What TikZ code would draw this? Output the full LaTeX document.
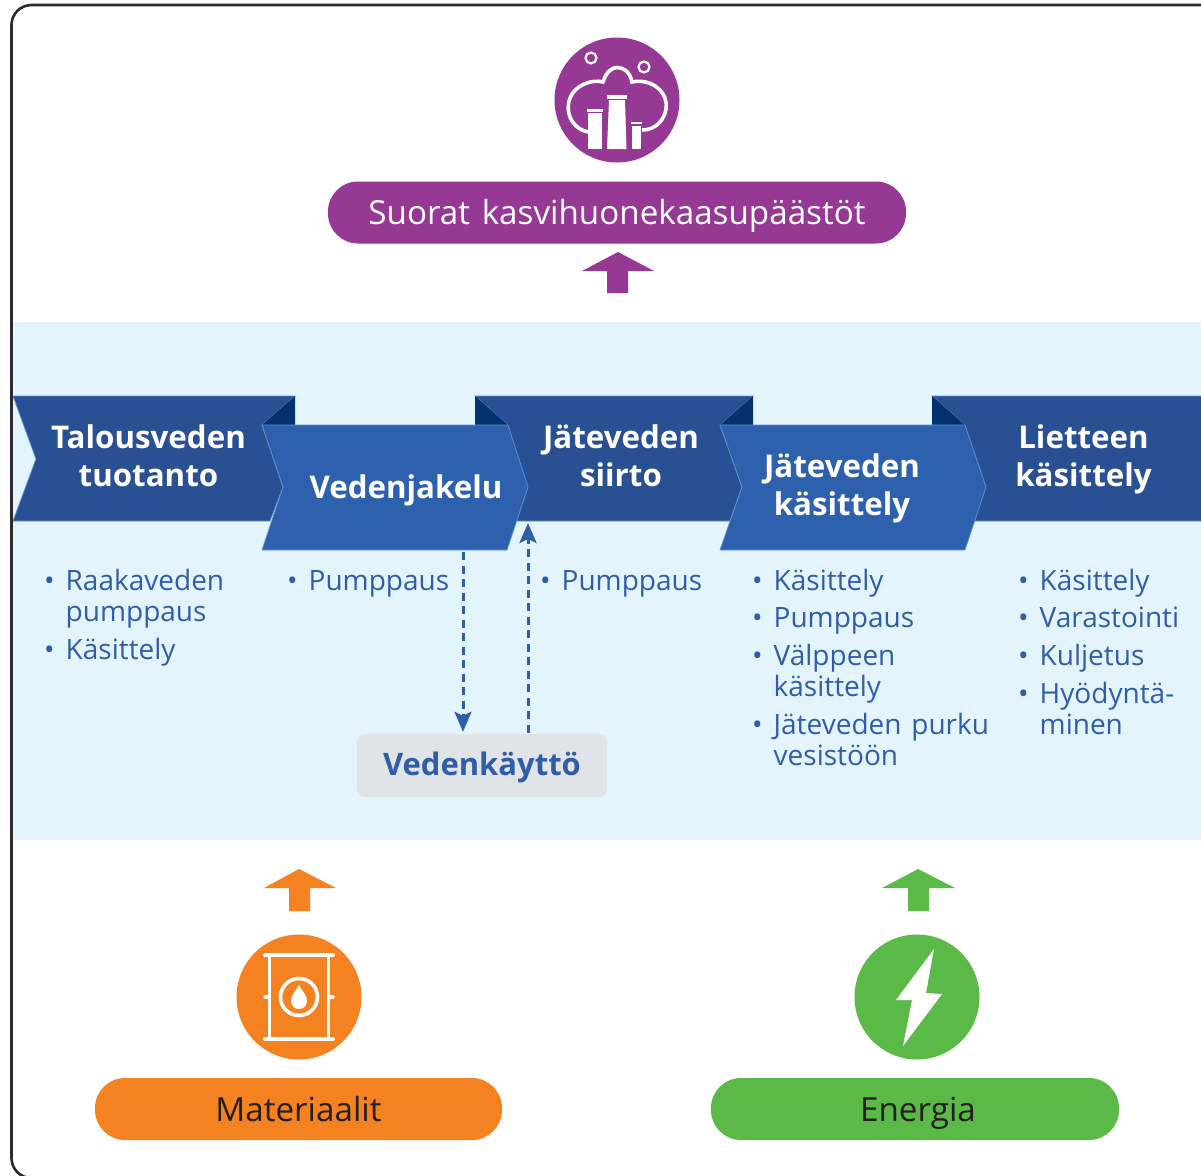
\documentclass[tikz,border=0pt]{standalone}
\usepackage{fontspec}
\setmainfont[WordSpace=1.35]{Open Sans}
\usetikzlibrary{arrows.meta}
\definecolor{band}{HTML}{E4F4FC}
\definecolor{ribdark}{HTML}{285093}
\definecolor{riblight}{HTML}{2D60AD}
\definecolor{ribedge}{HTML}{5F93CF}
\definecolor{fold}{HTML}{03306F}
\definecolor{txtblue}{HTML}{2F5DA8}
\definecolor{boxgrey}{HTML}{E1E4E6}
\definecolor{purp}{HTML}{953994}
\definecolor{oran}{HTML}{F58220}
\definecolor{gree}{HTML}{5BB947}
\definecolor{frameblk}{HTML}{2B2B2B}
\definecolor{pilltxt}{HTML}{231F20}
\newcommand{\tsr}{\rule{0pt}{30pt}}
\newcommand{\blt}{\llap{•\hspace{11pt}}}
\tikzset{
  ribd/.style={fill=ribdark,draw=ribedge,line width=0.7pt,line join=miter},
  ribl/.style={fill=riblight,draw=ribedge,line width=0.7pt,line join=miter},
  foldt/.style={fill=fold,draw=none},
  head/.style={anchor=north,inner sep=0pt,text=white,align=center,font=\fontsize{31.3}{38}\selectfont\bfseries},
  lst/.style={anchor=north west,inner sep=0pt,text=txtblue,align=left,font=\fontsize{28}{31}\selectfont},
  pill/.style={rounded corners=30pt,minimum height=62pt,inner sep=0pt,text height=30pt,text depth=6pt,font=\fontsize{33.2}{36}\selectfont},
  dashconn/.style={draw=txtblue,line width=3pt,dash pattern=on 8pt off 5.5pt,-{Stealth[length=20pt,width=17pt,inset=4pt]}},
  iconline/.style={draw=white,line width=3.6pt}
}
\begin{document}
\begin{tikzpicture}[x=1pt,y=-1pt]
\clip (0,0) rectangle (1201,1175);
\fill[white] (0,0) rectangle (1201,1175);
% band
\fill[band] (12,322) rectangle (1201,840);
% dark ribbons
\path[ribd] (13,396) -- (295,396) -- (262,425) -- (283,487) -- (270,521) -- (13,521) -- (36,459) -- cycle;
\path[ribd] (475,396) -- (753,396) -- (720,425) -- (742,487) -- (730,521) -- (500,521) -- (520,487) -- (508,425) -- cycle;
\path[ribd] (932,396) -- (1210,396) -- (1210,521) -- (970,521) -- (980,487) -- (965,425) -- cycle;
% folds
\fill[foldt] (262,425) -- (295,396) -- (295,425) -- cycle;
\fill[foldt] (475,396) -- (508,425) -- (475,425) -- cycle;
\fill[foldt] (720,425) -- (753,396) -- (753,425) -- cycle;
\fill[foldt] (932,396) -- (965,425) -- (932,425) -- cycle;
% light ribbons
\path[ribl] (262,425) -- (508,425) -- (528,487) -- (507,550) -- (262,550) -- (283,487) -- cycle;
\path[ribl] (720,425) -- (965,425) -- (986,487) -- (965,550) -- (720,550) -- (742,487) -- cycle;
% ribbon labels
\node[head] (h1) at (148.5,418) {\tsr Talousveden\\tuotanto};
\node[head] (h2) at (406,468.5) {\tsr Vedenjakelu};
\node[head] (h3) at (621,418) {\tsr Jäteveden\\siirto};
\node[head] (h4) at (842,447) {\tsr Jäteveden\\käsittely};
\node[head] (h5) at (1083.5,418) {\tsr Lietteen\\käsittely};
% lists
\node[lst] (a1) at (65.5,560) {\tsr\blt Raakaveden\\pumppaus};
\node[lst] (a2) at (65.5,629) {\tsr\blt Käsittely};
\node[lst] (b1) at (308.5,560) {\tsr\blt Pumppaus};
\node[lst] (c1) at (561.5,560) {\tsr\blt Pumppaus};
\node[lst] (d1) at (773.5,560) {\tsr\blt Käsittely};
\node[lst] (d2) at (773.5,597) {\tsr\blt Pumppaus};
\node[lst] (d3) at (773.5,635) {\tsr\blt Välppeen\\käsittely};
\node[lst] (d4) at (773.5,704) {\tsr\blt Jäteveden purku\\vesistöön};
\node[lst] (e1) at (1039.5,560) {\tsr\blt Käsittely};
\node[lst] (e2) at (1039.5,597) {\tsr\blt Varastointi};
\node[lst] (e3) at (1039.5,635) {\tsr\blt Kuljetus};
\node[lst] (e4) at (1039.5,673) {\tsr\blt Hyödyntä-\\minen};
% water use
\node[fill=boxgrey,rounded corners=8pt,minimum width=250pt,minimum height=63pt,inner sep=0pt,text height=25pt,text depth=5pt,text=txtblue,font=\fontsize{31}{34}\selectfont\bfseries] (vk) at (482,765.5) {Vedenkäyttö};
\coordinate (dn) at (463,552);
\coordinate (up) at (528,523);
\draw[dashconn,shorten >=2pt] (dn) -- (vk.north -| dn);
\draw[dashconn,shorten <=1pt] (vk.north -| up) -- (up);
% top
\fill[purp] (617,100) circle (62.5);
\draw[iconline,line cap=butt] (588,132) .. controls (570,128) and (565,110) .. (570,98) .. controls (575,85) and (592,79) .. (603,82) .. controls (606,72) and (612,67.5) .. (617,67.5) .. controls (624,67.5) and (630,72) .. (632,82) .. controls (645,79) and (660,85) .. (665,98) .. controls (670,112) and (660,130) .. (642,130);
\draw[white,line width=2.2pt] (591,58) circle (5.5);
\draw[white,line width=2.2pt] (644,67) circle (5.5);
\fill[white] (607,95) rectangle (627,98.5);
\fill[white] (609,100) -- (625,100) -- (626.5,149) -- (607,149) -- cycle;
\fill[white] (587,109) rectangle (603,111.5);
\fill[white] (588,113) rectangle (602,149);
\fill[white] (631,122) rectangle (642,124);
\fill[white] (632,125.5) rectangle (641,149);
\node[pill,fill=purp,text=white,minimum width=578pt] (p1) at (617,212.5) {Suorat kasvihuonekaasupäästöt};
\fill[purp] (618,252) -- (654,271) -- (628,271) -- (628,293) -- (607,293) -- (607,271) -- (582,271) -- cycle;
% orange
\fill[oran] (299,869) -- (336,888) -- (310,888) -- (310,911) -- (289,911) -- (289,888) -- (264,888) -- cycle;
\fill[oran] (299,997) circle (62.5);
\draw[white,line width=4pt,line cap=round] (265,955) -- (333,955);
\draw[white,line width=4pt,line cap=round] (265,1039) -- (333,1039);
\draw[white,line width=3.6pt] (269.5,955) -- (269.5,1039);
\draw[white,line width=3.6pt] (328.5,955) -- (328.5,1039);
\draw[white,line width=3.4pt,line cap=round] (265,997) -- (269,997);
\draw[white,line width=3.4pt,line cap=round] (329,997) -- (333,997);
\draw[white,line width=3.6pt] (299,997) circle (18.5);
\fill[white] (299,985) .. controls (302,991) and (307,995) .. (307,1001) arc[start angle=0,end angle=180,radius=8] .. controls (291,995) and (296,991) .. (299,985) -- cycle;
\node[pill,fill=oran,text=pilltxt,minimum width=407pt] (p2) at (298.5,1109) {Materiaalit};
% green
\fill[gree] (918,869) -- (955,888) -- (929,888) -- (929,911) -- (908,911) -- (908,888) -- (882,888) -- cycle;
\fill[gree] (917,997) circle (62.5);
\fill[white] (934,949) -- (926,993) -- (942,994) -- (903,1046) -- (912,1000) -- (896,1000) -- cycle;
\node[pill,fill=gree,text=pilltxt,minimum width=408pt] (p3) at (915,1109) {\hspace*{6pt}Energia};
% frame
\draw[frameblk,line width=2.6pt,rounded corners=20pt] (1240,5) -- (11.5,5) -- (11.5,1178) -- (1240,1178);
\end{tikzpicture}
\end{document}
